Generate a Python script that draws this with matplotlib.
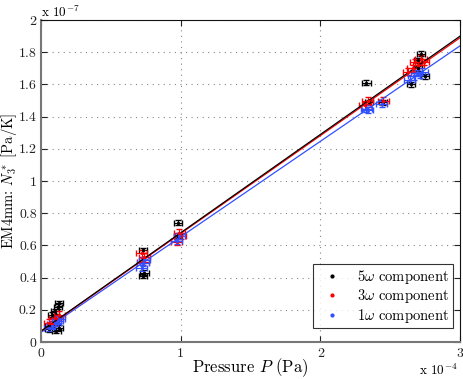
import matplotlib
matplotlib.use('Agg')
import matplotlib.pyplot as plt
from matplotlib.lines import Line2D
import numpy as np

plt.rcParams['font.family'] = 'cmr10'
plt.rcParams['mathtext.fontset'] = 'cm'
plt.rcParams['axes.formatter.use_mathtext'] = True

# pressure in units of 1e-4 Pa, N3* in units of 1e-7 Pa/K
x5 = [0.06, 0.08, 0.10, 0.12, 0.13, 0.06, 0.11, 0.13, 0.73, 0.73, 0.74, 0.98, 0.98,
      2.33, 2.35, 2.45, 2.65, 2.70, 2.72, 2.70, 2.75]
y5 = [0.10, 0.17, 0.19, 0.22, 0.24, 0.08, 0.07, 0.09, 0.57, 0.41, 0.43, 0.74, 0.66,
      1.61, 1.49, 1.49, 1.60, 1.70, 1.79, 1.75, 1.65]

x3 = [0.06, 0.08, 0.10, 0.12, 0.13, 0.72, 0.73, 0.74, 0.97, 0.99, 1.00,
      2.32, 2.34, 2.45, 2.63, 2.66, 2.68, 2.70, 2.72, 2.74]
y3 = [0.12, 0.11, 0.15, 0.14, 0.17, 0.55, 0.50, 0.53, 0.62, 0.68, 0.66,
      1.47, 1.50, 1.50, 1.68, 1.70, 1.74, 1.72, 1.76, 1.74]

x1 = [0.06, 0.08, 0.10, 0.12, 0.13, 0.72, 0.73, 0.74, 0.97, 0.99,
      2.33, 2.34, 2.44, 2.64, 2.67, 2.69, 2.71, 2.73]
y1 = [0.09, 0.10, 0.12, 0.13, 0.14, 0.46, 0.49, 0.51, 0.63, 0.66,
      1.45, 1.44, 1.48, 1.63, 1.65, 1.67, 1.66, 1.68]

# linear fits, read at the plot edges
fit_x = [0.0, 3.0]
fit5 = [0.068, 1.900]
fit3 = [0.066, 1.890]
fit1 = [0.060, 1.840]

labels = [r'5$\omega$ component', r'3$\omega$ component', r'1$\omega$ component']

err5 = (0.03, 0.015)
err3 = (0.04, 0.02)
err1 = (0.04, 0.02)

c_red = '#ff0000'
c_blue = '#3050ff'

fig = plt.figure(figsize=(4.63, 3.79), dpi=100)
ax = fig.add_axes([0.0886, 0.0976, 0.905, 0.8495])

ax.errorbar(x5, y5, xerr=err5[0], yerr=err5[1], fmt='.', color='k', ms=3,
            elinewidth=0.8, capsize=2)
ax.errorbar(x3, y3, xerr=err3[0], yerr=err3[1], fmt='.', color=c_red, ms=3,
            elinewidth=0.8, capsize=2)
ax.errorbar(x1, y1, xerr=err1[0], yerr=err1[1], fmt='.', color=c_blue, ms=3,
            elinewidth=0.8, capsize=2)

ax.plot(fit_x, fit1, color=c_blue, lw=0.9)
ax.plot(fit_x, fit3, color=c_red, lw=0.9)
ax.plot(fit_x, fit5, color='k', lw=0.9)

ax.set_xlim(0, 3)
ax.set_ylim(0, 2)
ax.set_xticks([0, 1, 2, 3])
ax.set_xticklabels(['0', '1', '2', '3'])
yt = np.arange(0, 2.01, 0.2)
ax.set_yticks(yt)
ax.set_yticklabels(['0', '0.2', '0.4', '0.6', '0.8', '1', '1.2', '1.4', '1.6', '1.8', '2'])
ax.tick_params(direction='in', length=4, labelsize=10, colors='#222222', pad=4)
ax.tick_params(axis='y', pad=3)
ax.tick_params(top=True, right=True)
ax.grid(True, linestyle=(0, (1, 4)), color='#888888', lw=0.8)
for s in ['left', 'bottom']:
    ax.spines[s].set_color('#777777')
    ax.spines[s].set_linewidth(1.5)
for s in ['top', 'right']:
    ax.spines[s].set_color('#111111')
    ax.spines[s].set_linewidth(0.8)

ax.set_xlabel(r'Pressure $P$ (Pa)', fontsize=12)
ax.set_ylabel(r'EM4mm: $N_3^*$ [Pa/K]', fontsize=10.5)
ax.xaxis.set_label_coords(0.5, -0.045)
ax.yaxis.set_label_coords(-0.052, 0.5)
fig.text(0.088, 0.955, r'x 10$^{-7}$', fontsize=9.5)
fig.text(0.905, 0.01, r'x 10$^{-4}$', fontsize=9.5)

handles = [Line2D([], [], ls='', marker='.', ms=4, color=c) for c in ['k', c_red, c_blue]]
leg = ax.legend(handles, labels, loc='lower right', fontsize=10.5, frameon=True,
                fancybox=False, edgecolor='k', borderpad=0.25, handlelength=2.2,
                handletextpad=0.6, labelspacing=0.1, bbox_to_anchor=(1.0, 0.02))
leg.get_frame().set_linewidth(0.8)

fig.savefig('out.png', dpi=100)
